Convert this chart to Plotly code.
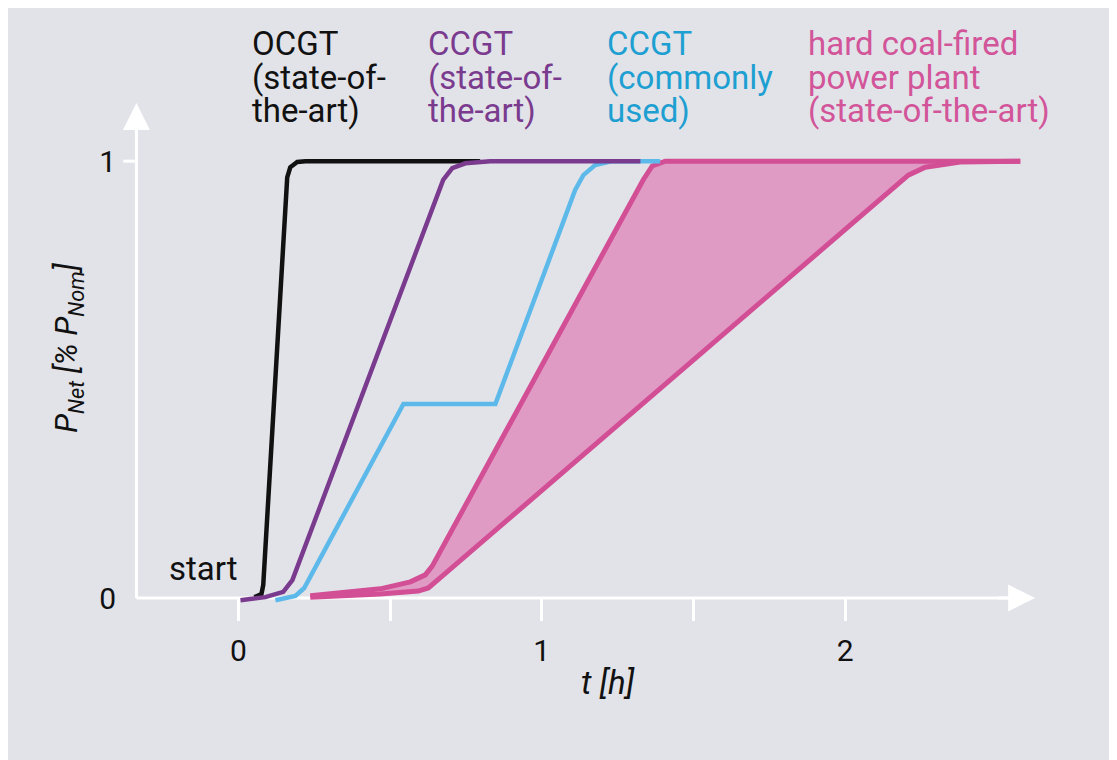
import plotly.graph_objects as go

# --- data (t in hours, P_net as fraction of P_nom) ---
ocgt_t = [0.053, 0.076, 0.082, 0.161, 0.171, 0.194, 0.221, 0.797]
ocgt_p = [0.002, 0.009, 0.030, 0.963, 0.986, 0.998, 1.000, 1.000]

ccgt_t = [0.007, 0.089, 0.148, 0.178, 0.675, 0.705, 0.748, 0.830, 1.325]
ccgt_p = [-0.005, 0.002, 0.014, 0.041, 0.957, 0.984, 0.995, 1.000, 1.000]

ccgt_old_t = [0.122, 0.188, 0.217, 0.544, 0.847, 1.110, 1.137, 1.176, 1.232, 1.390]
ccgt_old_p = [-0.005, 0.005, 0.023, 0.444, 0.444, 0.934, 0.968, 0.991, 1.000, 1.000]

coal_fast_t = [0.237, 0.468, 0.567, 0.616, 0.639, 1.334, 1.364, 1.407, 2.577]
coal_fast_p = [0.005, 0.021, 0.037, 0.053, 0.073, 0.957, 0.989, 1.000, 1.000]

coal_slow_t = [0.237, 0.468, 0.593, 0.626, 0.665, 2.165, 2.208, 2.264, 2.379, 2.577]
coal_slow_p = [0.002, 0.009, 0.016, 0.023, 0.046, 0.940, 0.968, 0.986, 0.998, 1.000]

x_ticks = [0, 0.5, 1, 1.5, 2]
x_ticktext = ["0", "", "1", "", "2"]
y_ticks = [0, 1]

series_labels = [
    ["OCGT", "(state-of-", "the-art)"],
    ["CCGT", "(state-of-", "the-art)"],
    ["CCGT", "(commonly", "used)"],
    ["hard coal-fired", "power plant", "(state-of-the-art)"],
]

BG = "#e2e3e8"
BLACK = "#111111"
PURPLE = "#7a3b8f"
BLUE_LINE = "#5cb9ea"
BLUE_TEXT = "#1e9fd2"
PINK_LINE = "#d24f96"
PINK_FILL = "#e09bc5"
PINK_TEXT = "#d2559a"
FONT = "Roboto, Liberation Sans, sans-serif"

XMIN, XMAX = -0.40, 2.642
YMIN, YMAX = -0.032, 1.14
W, H = 1117, 760
OFF = 8  # page body margin
L, T = 109, 92
PW, PH = 923, 512
R, B = W - L - PW, H - T - PH


def px(X):
    # page pixel -> paper x
    return (X - OFF - L) / PW


def py(Y):
    # page pixel -> paper y
    return (OFF + T + PH - Y) / PH


fig = go.Figure()

# coal band fill
fig.add_trace(go.Scatter(
    x=coal_fast_t + coal_slow_t[::-1], y=coal_fast_p + coal_slow_p[::-1],
    fill="toself", fillcolor=PINK_FILL, line=dict(width=0),
    mode="lines", hoverinfo="skip", showlegend=False))

for t, p, c, w in [(coal_slow_t, coal_slow_p, PINK_LINE, 5),
                   (coal_fast_t, coal_fast_p, PINK_LINE, 5),
                   (ccgt_old_t, ccgt_old_p, BLUE_LINE, 4.5),
                   (ocgt_t, ocgt_p, BLACK, 4.5),
                   (ccgt_t, ccgt_p, PURPLE, 4.5)]:
    fig.add_trace(go.Scatter(x=t, y=p, mode="lines", showlegend=False,
                             line=dict(color=c, width=w)))

# hand-drawn axes (white lines with arrow heads)
ax_x0 = -0.336
fig.add_shape(type="line", x0=ax_x0, y0=0, x1=2.58, y1=0, layer="below",
              line=dict(color="white", width=3))
fig.add_shape(type="line", x0=ax_x0, y0=0, x1=ax_x0, y1=1.10, layer="below",
              line=dict(color="white", width=3))
fig.add_shape(type="line", x0=-0.379, y0=1, x1=ax_x0, y1=1, layer="below",
              line=dict(color="white", width=3))
fig.add_annotation(x=2.626, y=0, ax=2.5, ay=0, axref="x", ayref="y",
                   text="", showarrow=True, arrowhead=2, arrowsize=1.8,
                   arrowwidth=3, arrowcolor="white")
fig.add_annotation(x=ax_x0, y=1.133, ax=ax_x0, ay=1.05, axref="x", ayref="y",
                   text="", showarrow=True, arrowhead=2, arrowsize=1.8,
                   arrowwidth=3, arrowcolor="white")

# series labels at the top, one annotation per line for tight leading
label_cols = [BLACK, PURPLE, BLUE_TEXT, PINK_TEXT]
label_x = [250, 426, 605, 806]
line_y = [43, 77, 110]
for lines, col, X in zip(series_labels, label_cols, label_x):
    for txt, Y in zip(lines, line_y):
        fig.add_annotation(x=px(X), y=py(Y), xref="paper", yref="paper",
                           text=txt, showarrow=False, xanchor="left",
                           yanchor="middle",
                           font=dict(family=FONT, size=33, color=col))

fig.add_annotation(x=px(240), y=py(568), xref="paper", yref="paper",
                   text="start", showarrow=False, xanchor="right",
                   yanchor="middle",
                   font=dict(family=FONT, size=33, color=BLACK))
fig.add_annotation(x=px(608), y=py(682), xref="paper", yref="paper",
                   text="<i>t [h]</i>", showarrow=False, xanchor="center",
                   yanchor="middle",
                   font=dict(family=FONT, size=33, color=BLACK))
fig.add_annotation(x=px(68), y=py(348), xref="paper", yref="paper",
                   text="<i>P<sub>Net</sub> [% P<sub>Nom</sub>]</i>",
                   showarrow=False, textangle=-90, xanchor="center",
                   yanchor="middle",
                   font=dict(family=FONT, size=31, color=BLACK))

fig.update_layout(
    width=W, height=H, template="none",
    paper_bgcolor=BG, plot_bgcolor="rgba(0,0,0,0)",
    margin=dict(l=L, r=R, t=T, b=B),
    font=dict(family=FONT, size=30, color=BLACK),
    xaxis=dict(range=[XMIN, XMAX], showgrid=False, zeroline=False,
               showline=False, anchor="free",
               position=(0 - YMIN) / (YMAX - YMIN),
               tickvals=x_ticks, ticktext=x_ticktext, ticks="outside",
               ticklen=22, tickwidth=3, tickcolor="white",
               ticklabelstandoff=4, automargin=False,
               tickfont=dict(family=FONT, size=30, color=BLACK)),
    yaxis=dict(range=[YMIN, YMAX], showgrid=False, zeroline=False,
               showline=False, tickvals=y_ticks, ticks="",
               ticklabelstandoff=0, automargin=False,
               tickfont=dict(family=FONT, size=30, color=BLACK)),
)

fig.write_html("out.html")
